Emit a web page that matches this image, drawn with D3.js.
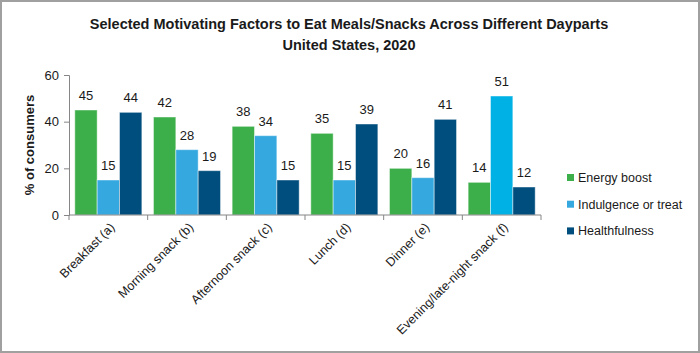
<!DOCTYPE html>
<html lang="en">
<head>
<meta charset="utf-8">
<title>Motivating factors by daypart</title>
<script src="https://cdn.jsdelivr.net/npm/d3@7"></script>
<style>
  body { margin: 0; background: #fff; }
  svg text { font-family: "Liberation Sans", Arial, sans-serif; fill: #1a1a1a; }
</style>
</head>
<body>
<script>
// data
var categories = ["Breakfast (a)", "Morning snack (b)", "Afternoon snack (c)", "Lunch (d)", "Dinner (e)", "Evening/late-night snack (f)"];
var seriesNames = ["Energy boost", "Indulgence or treat", "Healthfulness"];
var energy = [45, 42, 38, 35, 20, 14];
var indulgence = [15, 28, 34, 15, 16, 51];
var health = [44, 19, 15, 39, 41, 12];
var yTicks = [0, 20, 40, 60];

var colors = ["#3daf4a", "#35a8df", "#004e7e"];
var highlight = "#00b1e5"; // evening indulgence bar is a brighter cyan

var W = 700, H = 353;
var m = { left: 69, right: 159, top: 75, bottom: 138 };

var svg = d3.select("body").append("svg")
  .attr("width", W).attr("height", H);

svg.append("rect")
  .attr("x", 1).attr("y", 1).attr("width", W - 2).attr("height", H - 2)
  .attr("fill", "#fff").attr("stroke", "#a0a0a0").attr("stroke-width", 2);

// title
var title = svg.append("text")
  .attr("text-anchor", "middle")
  .attr("font-weight", "bold")
  .attr("font-size", "14.5px");
title.append("tspan").attr("x", 349).attr("y", 29)
  .text("Selected Motivating Factors to Eat Meals/Snacks Across Different Dayparts");
title.append("tspan").attr("x", 349).attr("y", 50)
  .text("United States, 2020");

var x0 = d3.scaleBand().domain(categories)
  .range([m.left, W - m.right]).paddingInner(0).paddingOuter(0);
var x1 = d3.scaleBand().domain(seriesNames)
  .range([0, x0.bandwidth()]).paddingOuter(0.26).paddingInner(0);
var y = d3.scaleLinear().domain([0, 60]).range([H - m.bottom, m.top]);

// y axis
var yAxis = svg.append("g")
  .attr("transform", "translate(" + m.left + ",0)")
  .call(d3.axisLeft(y).tickValues(yTicks).tickSize(5).tickPadding(5));
yAxis.select(".domain").attr("stroke", "#868686");
yAxis.selectAll(".tick line").attr("stroke", "#868686");
yAxis.selectAll(".tick text").attr("font-size", "13px").attr("fill", "#1a1a1a");

svg.append("text")
  .attr("transform", "translate(34," + (y(30)) + ") rotate(-90)")
  .attr("text-anchor", "middle")
  .attr("font-weight", "bold")
  .attr("font-size", "13px")
  .text("% of consumers");

// bars
var rows = categories.map(function(c, i) {
  return { cat: c, vals: [energy[i], indulgence[i], health[i]] };
});

var groups = svg.selectAll("g.grp").data(rows).enter().append("g")
  .attr("class", "grp")
  .attr("transform", function(d) { return "translate(" + x0(d.cat) + ",0)"; });

groups.selectAll("rect").data(function(d) {
    return d.vals.map(function(v, j) { return { cat: d.cat, s: seriesNames[j], j: j, v: v }; });
  }).enter().append("rect")
  .attr("x", function(d) { return x1(d.s); })
  .attr("y", function(d) { return y(d.v); })
  .attr("width", x1.bandwidth())
  .attr("height", function(d) { return y(0) - y(d.v); })
  .attr("fill", function(d) {
    if (d.j === 1 && d.cat === categories[5]) return highlight;
    return colors[d.j];
  })
  .attr("stroke", "rgba(255,255,255,0.45)")
  .attr("stroke-width", 1);

groups.selectAll("text.val").data(function(d) {
    return d.vals.map(function(v, j) { return { s: seriesNames[j], v: v }; });
  }).enter().append("text")
  .attr("class", "val")
  .attr("x", function(d) { return x1(d.s) + x1.bandwidth() / 2; })
  .attr("y", function(d) { return y(d.v) - 10; })
  .attr("text-anchor", "middle")
  .attr("font-size", "13px")
  .text(function(d) { return d.v; });

// x axis
var xb = y(0);
svg.append("line")
  .attr("x1", m.left).attr("x2", W - m.right)
  .attr("y1", xb).attr("y2", xb)
  .attr("stroke", "#868686");
var bounds = categories.map(function(c) { return x0(c); }).concat([x0(categories[5]) + x0.bandwidth()]);
svg.selectAll("line.xt").data(bounds).enter().append("line")
  .attr("class", "xt")
  .attr("x1", function(d) { return d; }).attr("x2", function(d) { return d; })
  .attr("y1", xb).attr("y2", xb + 5)
  .attr("stroke", "#868686");

svg.selectAll("text.xl").data(categories).enter().append("text")
  .attr("class", "xl")
  .attr("transform", function(d) {
    return "translate(" + (x0(d) + x0.bandwidth() / 2 + 4) + "," + (xb + 10) + ") rotate(-45)";
  })
  .attr("text-anchor", "end")
  .attr("dy", "0.35em")
  .attr("font-size", "12.5px")
  .text(function(d) { return d; });

// legend
var leg = svg.selectAll("g.leg").data(seriesNames).enter().append("g")
  .attr("class", "leg")
  .attr("transform", function(d, i) { return "translate(567," + (177.5 + i * 26.7) + ")"; });
leg.append("rect")
  .attr("x", 0).attr("y", -3.5).attr("width", 7).attr("height", 7)
  .attr("fill", function(d, i) { return colors[i]; });
leg.append("text")
  .attr("x", 11).attr("y", 0).attr("dy", "0.35em")
  .attr("font-size", "12.5px")
  .text(function(d) { return d; });
</script>
</body>
</html>
